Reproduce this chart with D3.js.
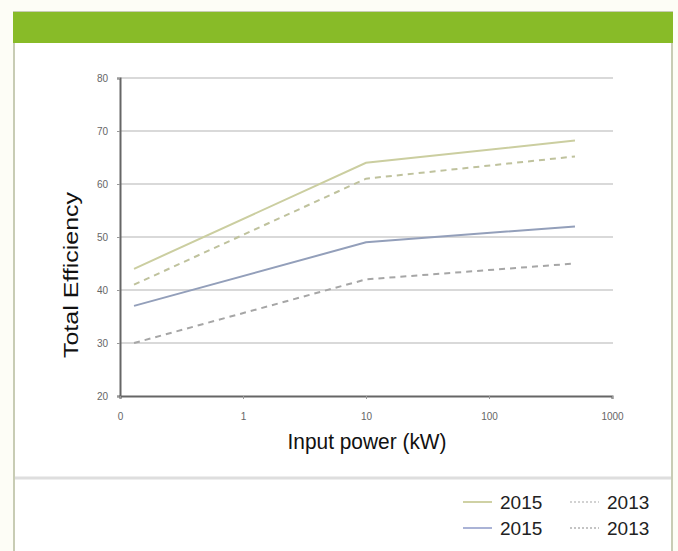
<!DOCTYPE html>
<html>
<head>
<meta charset="utf-8">
<script src="https://cdn.jsdelivr.net/npm/d3@7"></script>
<style>
  body { margin: 0; background: #fdfdf6; }
  svg { display: block; }
</style>
</head>
<body>
<div id="chart"></div>
<script>
// data (x is kW on a log axis, "0" stands for 0.1)
const power = [0.13, 10, 500];
const green2015 = [44, 64, 68.2];
const green2013 = [41, 61, 65.2];
const blue2015 = [37, 49, 52];
const grey2013 = [30, 42, 45];
const xTicks = [0.1, 1, 10, 100, 1000];
const xTickLabels = ["0", "1", "10", "100", "1000"];
const yTicks = [20, 30, 40, 50, 60, 70, 80];

const width = 678, height = 551;
const svg = d3.select("#chart").append("svg")
    .attr("width", width)
    .attr("height", height);

// panel frame
svg.append("rect").attr("x", 14).attr("y", 12).attr("width", 658).attr("height", 560)
    .attr("fill", "#fff").attr("stroke", "#c8ccb4").attr("stroke-width", 2);
svg.append("rect").attr("x", 13).attr("y", 12).attr("width", 660).attr("height", 31)
    .attr("fill", "#88bb28");
svg.append("line").attr("x1", 15).attr("x2", 671).attr("y1", 478).attr("y2", 478)
    .attr("stroke", "#dedede").attr("stroke-width", 3);

const x = d3.scaleLog().domain([0.1, 1000]).range([120, 612]);
const y = d3.scaleLinear().domain([20, 80]).range([396, 78]);

// gridlines
svg.append("g").selectAll("line").data(yTicks.slice(1)).join("line")
    .attr("x1", 120).attr("x2", 613)
    .attr("y1", d => y(d)).attr("y2", d => y(d))
    .attr("stroke", "#cccccc").attr("stroke-width", 1.5);

// axes
const yAxis = svg.append("g").attr("transform", "translate(120,0)")
    .call(d3.axisLeft(y).tickValues(yTicks).tickSize(3).tickPadding(9));
const xAxis = svg.append("g").attr("transform", "translate(0,396)")
    .call(d3.axisBottom(x).tickValues(xTicks).tickFormat((d, i) => xTickLabels[i]).tickSize(3).tickPadding(14));
[yAxis, xAxis].forEach(g => {
  g.select(".domain").attr("stroke", "#666").attr("stroke-width", 2);
  g.selectAll(".tick line").attr("stroke", "#999");
  g.selectAll("text").attr("fill", "#666").attr("font-size", 10)
    .attr("font-family", "Liberation Sans, Arial, sans-serif");
});

const line = d3.line().x(d => x(d[0])).y(d => y(d[1]));
const series = [
  { vals: green2015, color: "#cbcea0", dash: null },
  { vals: green2013, color: "#bfc29d", dash: "6,5" },
  { vals: blue2015, color: "#939fba", dash: null },
  { vals: grey2013, color: "#a6a6a6", dash: "6,5" }
];
series.forEach(s => {
  svg.append("path")
      .datum(power.map((p, i) => [p, s.vals[i]]))
      .attr("d", line)
      .attr("fill", "none")
      .attr("stroke", s.color)
      .attr("stroke-width", 2)
      .attr("stroke-dasharray", s.dash);
});

// axis titles (condensed look via textLength)
svg.append("text").attr("x", 367).attr("y", 449)
    .attr("text-anchor", "middle")
    .attr("font-family", "Liberation Sans, Arial, sans-serif")
    .attr("font-size", 22).attr("fill", "#111")
    .attr("textLength", 159).attr("lengthAdjust", "spacingAndGlyphs")
    .text("Input power (kW)");
svg.append("text")
    .attr("transform", "translate(78,275) rotate(-90)")
    .attr("text-anchor", "middle")
    .attr("font-family", "Liberation Sans, Arial, sans-serif")
    .attr("font-size", 21).attr("fill", "#111")
    .attr("textLength", 166).attr("lengthAdjust", "spacingAndGlyphs")
    .text("Total Efficiency");

// legend
const legend = [
  { label: "2015", color: "#cfd1a4", dash: null, lx: 463, ly: 502 },
  { label: "2013", color: "#d2d2d2", dash: "2,2", lx: 570, ly: 502 },
  { label: "2015", color: "#aab3d6", dash: null, lx: 463, ly: 528 },
  { label: "2013", color: "#c4c4c4", dash: "2,2", lx: 570, ly: 528 }
];
const lg = svg.append("g").selectAll("g").data(legend).join("g");
lg.append("line")
    .attr("x1", d => d.lx).attr("x2", d => d.lx + 29)
    .attr("y1", d => d.ly).attr("y2", d => d.ly)
    .attr("stroke", d => d.color).attr("stroke-width", 2)
    .attr("stroke-dasharray", d => d.dash);
lg.append("text")
    .attr("x", d => d.lx + 37).attr("y", d => d.ly + 7)
    .attr("font-family", "Liberation Sans, Arial, sans-serif")
    .attr("font-size", 19).attr("fill", "#222")
    .text(d => d.label);
</script>
</body>
</html>
